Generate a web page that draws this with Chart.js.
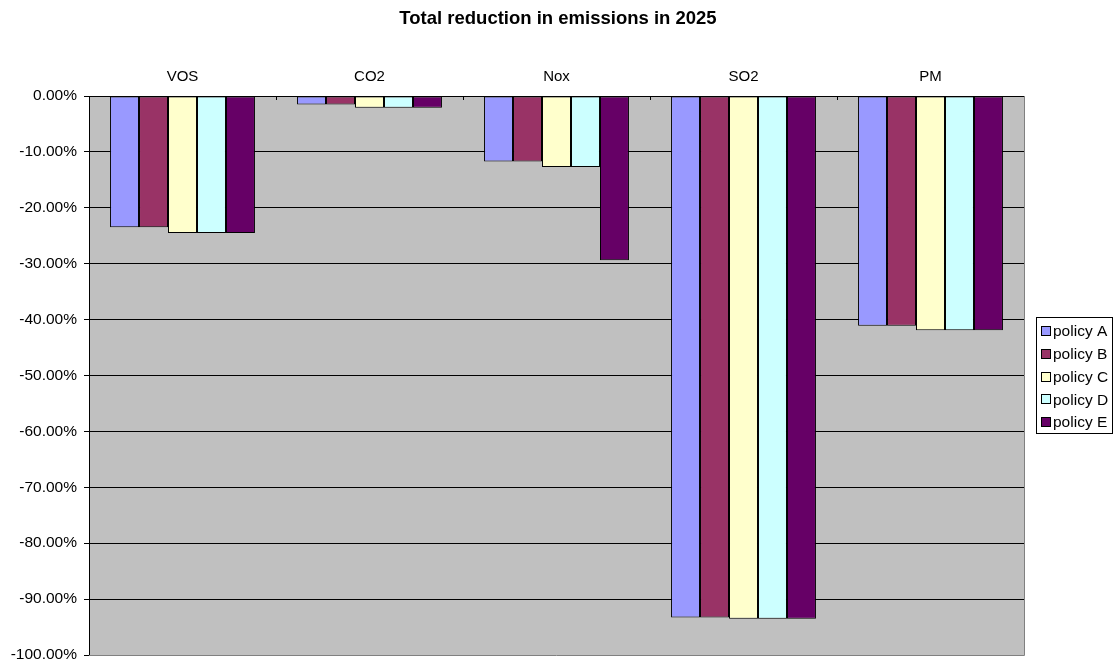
<!DOCTYPE html>
<html>
<head>
<meta charset="utf-8">
<title>Total reduction in emissions in 2025</title>
<script src="https://cdn.jsdelivr.net/npm/chart.js@4/dist/chart.umd.min.js"></script>
<style>
  html, body { margin: 0; padding: 0; background: #fff; }
  #wrap { width: 1114px; height: 665px; position: relative; }
</style>
</head>
<body>
<div id="wrap"><canvas id="c" width="1114" height="665"></canvas></div>
<script>
// Emission categories
const pollutants = ['VOS', 'CO2', 'Nox', 'SO2', 'PM'];

// Reduction in 2025 per policy, in percent
const policyA = [-23.5, -1.5, -11.7, -93.3, -41.1];
const policyB = [-23.5, -1.5, -11.7, -93.3, -41.1];
const policyC = [-24.5, -2.1, -12.7, -93.5, -41.9];
const policyD = [-24.5, -2.1, -12.7, -93.5, -41.9];
const policyE = [-24.5, -2.1, -29.4, -93.5, -41.9];

const seriesNames = ['policy A', 'policy B', 'policy C', 'policy D', 'policy E'];
const seriesValues = [policyA, policyB, policyC, policyD, policyE];
const seriesColors = ['#9999FF', '#993366', '#FFFFCC', '#CCFFFF', '#660066'];

const chartTitle = 'Total reduction in emissions in 2025';

const FONT = '"Liberation Sans", Arial, Helvetica, sans-serif';
Chart.defaults.font.family = FONT;
Chart.defaults.color = '#000';

// Gray plot area, shaded frame, title, inner category ticks and boxed legend
const decorations = {
  id: 'decorations',
  beforeDraw(chart) {
    const { ctx, chartArea: a } = chart;
    ctx.save();
    ctx.fillStyle = '#C0C0C0';
    ctx.fillRect(a.left, a.top, a.right - a.left, a.bottom - a.top);
    ctx.restore();
  },
  afterDraw(chart) {
    const { ctx, chartArea: a } = chart;
    const x = chart.scales.x;
    ctx.save();
    // frame shading on right and bottom edges
    ctx.strokeStyle = '#808080';
    ctx.lineWidth = 1;
    ctx.beginPath();
    ctx.moveTo(Math.round(a.right) + 0.5, a.top);
    ctx.lineTo(Math.round(a.right) + 0.5, Math.round(a.bottom) + 0.5);
    ctx.lineTo(a.left, Math.round(a.bottom) + 0.5);
    ctx.stroke();

    // short category separator ticks pointing into the plot
    ctx.strokeStyle = '#000';
    ctx.beginPath();
    for (let i = 1; i < pollutants.length; i++) {
      const px = Math.round(x.getPixelForValue(i - 0.5)) + 0.5;
      ctx.moveTo(px, a.top);
      ctx.lineTo(px, a.top + 4);
    }
    ctx.stroke();

    // title
    ctx.fillStyle = '#000';
    ctx.font = 'bold 18.5px ' + FONT;
    ctx.textAlign = 'center';
    ctx.textBaseline = 'middle';
    ctx.fillText(chartTitle, 558, 19);

    // legend box
    const lx = 1036, ly = 317, lw = 77, lh = 116;
    ctx.fillStyle = '#fff';
    ctx.fillRect(lx, ly, lw, lh);
    ctx.strokeStyle = '#000';
    ctx.strokeRect(lx + 0.5, ly + 0.5, lw - 1, lh);
    ctx.font = '15.5px ' + FONT;
    ctx.textAlign = 'left';
    chart.data.datasets.forEach((ds, i) => {
      const cy = 331 + i * 22.8;
      const sy = Math.round(cy) - 5;
      ctx.fillStyle = ds.backgroundColor;
      ctx.fillRect(lx + 5, sy, 10, 10);
      ctx.strokeStyle = '#000';
      ctx.strokeRect(lx + 5.5, sy + 0.5, 9, 9);
      ctx.fillStyle = '#000';
      ctx.fillText(ds.label, lx + 17, cy + 1);
    });
    ctx.restore();
  }
};

new Chart(document.getElementById('c'), {
  type: 'bar',
  data: {
    labels: pollutants,
    datasets: seriesNames.map((name, i) => ({
      label: name,
      data: seriesValues[i],
      backgroundColor: seriesColors[i],
      borderColor: '#000',
      borderWidth: 1,
      borderSkipped: false,
      categoryPercentage: 0.775,
      barPercentage: 1.0
    }))
  },
  options: {
    responsive: false,
    animation: false,
    events: [],
    layout: { padding: { left: 0, right: 90, top: 0, bottom: 0 } },
    plugins: {
      legend: { display: false },
      title: { display: false },
      tooltip: { enabled: false }
    },
    scales: {
      x: {
        type: 'category',
        position: 'top',
        offset: true,
        afterFit(s) { s.height = 96; },
        grid: { display: true, drawOnChartArea: false, drawTicks: false },
        border: { display: true, color: '#000', width: 1 },
        ticks: { font: { size: 15 }, color: '#000', padding: 10, maxRotation: 0 }
      },
      y: {
        min: -100,
        max: 0,
        afterFit(s) {
          s.width = 89;
          s.paddingTop = 0;
          s.paddingBottom = 10;
        },
        grid: {
          color: (c) => (c.tick && c.tick.value === -100 ? 'rgba(0,0,0,0)' : '#000'),
          tickColor: '#000',
          tickLength: 5,
          lineWidth: 1
        },
        border: { display: true, color: '#000', width: 1 },
        ticks: {
          stepSize: 10,
          font: { size: 15.5 },
          color: '#000',
          padding: 7,
          callback: (v) => v.toFixed(2) + '%'
        }
      }
    }
  },
  plugins: [decorations]
});
</script>
</body>
</html>
